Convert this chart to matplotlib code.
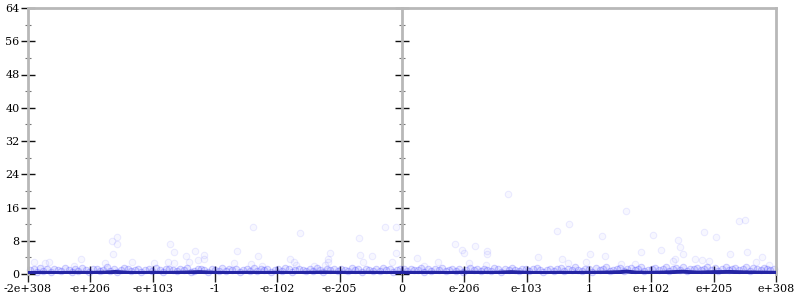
import matplotlib
matplotlib.use("Agg")
import matplotlib.pyplot as plt
from matplotlib.ticker import MultipleLocator

# ---- data (x in display-scale units: -6 .. 6 correspond to the tick labels) ----
tick_pos = [-6, -5, -4, -3, -2, -1, 0, 1, 2, 3, 4, 5, 6]
tick_labels = ["-2e+308", "-e+206", "-e+103", "-1", "-e-102", "-e-205", "0",
               "e-206", "e-103", "1", "e+102", "e+205", "e+308"]

band_left_t = [-5.97,-5.91,-5.86,-5.80,-5.76,-5.69,-5.63,-5.58,-5.52,-5.47,-5.41,-5.35,-5.30,-5.24,-5.19,-5.13,
               -5.07,-5.02,-4.96,-4.90,-4.85,-4.79,-4.74,-4.68,-4.62,-4.57,-4.51,-4.46,-4.40,-4.34,-4.29,-4.23,
               -4.18,-4.12,-4.06,-4.01,-3.95,-3.89,-3.84,-3.78,-3.73,-3.67,-3.61,-3.56,-3.50,-3.45,-3.39,-3.33,
               -3.28,-3.22,-3.17,-3.11,-3.05,-3.00,-2.94,-2.88,-2.83,-2.77,-2.72,-2.66,-2.60,-2.55,-2.49,-2.44,
               -2.38,-2.32,-2.27,-2.21,-2.16,-2.10,-2.04,-1.99,-1.93,-1.87,-1.82,-1.76,-1.71,-1.65,-1.59,-1.54,
               -1.48,-1.43,-1.37,-1.31,-1.26,-1.20,-1.15,-1.09,-1.03,-0.98,-0.92,-0.86,-0.81,-0.75,-0.70,-0.64,
               -0.58,-0.53,-0.47,-0.42,-0.36,-0.30,-0.25,-0.19,-0.14,-0.08,-0.03]
band_left_y = [0.9,1.2,0.6,1.4,0.8,1.1,0.5,1.3,0.9,0.7,1.5,1.0,0.6,1.2,0.8,1.4,
               0.9,0.5,1.1,1.3,0.7,1.0,1.6,0.8,1.2,0.6,0.9,1.4,1.1,0.7,1.0,1.3,
               0.5,0.9,1.2,0.8,1.5,1.0,0.6,1.1,1.3,0.9,0.7,1.2,1.0,1.4,0.6,0.8,
               1.1,1.3,0.9,0.5,1.2,1.0,0.7,1.5,0.8,1.1,0.9,1.3,0.6,1.0,1.2,0.8,
               1.4,0.7,1.1,0.9,1.3,0.5,1.0,1.2,0.8,1.5,1.1,0.6,0.9,1.3,1.0,0.7,
               1.2,0.8,1.4,1.0,0.6,1.1,0.9,1.3,0.7,1.2,1.0,0.8,1.5,0.9,1.1,0.6,
               1.3,1.0,0.8,1.2,0.7,1.4,0.9,1.1,0.6,1.0,1.3]

band_right_t = [0.03,0.08,0.14,0.19,0.25,0.31,0.36,0.42,0.47,0.53,0.59,0.64,0.70,0.75,0.81,0.87,
                0.92,0.98,1.03,1.09,1.15,1.20,1.26,1.31,1.37,1.43,1.48,1.54,1.59,1.65,1.71,1.76,
                1.82,1.87,1.93,1.99,2.04,2.10,2.16,2.21,2.27,2.32,2.38,2.44,2.49,2.55,2.60,2.66,
                2.72,2.77,2.83,2.88,2.94,3.00,3.05,3.11,3.17,3.22,3.28,3.33,3.39,3.45,3.50,3.56,
                3.61,3.67,3.73,3.78,3.84,3.89,3.95,4.01,4.06,4.12,4.18,4.23,4.29,4.34,4.40,4.46,
                4.51,4.57,4.62,4.68,4.74,4.79,4.85,4.90,4.96,5.02,5.07,5.13,5.19,5.24,5.30,5.35,
                5.41,5.47,5.52,5.58,5.63,5.69,5.76,5.80,5.86,5.91,5.97]
band_right_y = [1.1,0.7,1.3,0.9,1.0,1.4,0.6,1.2,0.8,1.1,0.9,1.5,0.7,1.0,1.3,0.8,
                1.2,0.6,1.0,1.4,0.9,1.1,0.7,1.3,1.0,0.8,1.5,1.2,0.6,1.1,0.9,1.4,
                1.0,0.7,1.3,1.1,0.8,1.2,1.5,0.9,0.6,1.0,1.3,0.8,1.1,1.4,0.7,1.2,
                0.9,1.6,1.0,0.8,1.3,1.1,0.6,1.4,0.9,1.2,1.7,0.8,1.0,1.3,1.5,0.7,
                1.1,1.4,0.9,1.2,1.6,0.8,1.0,1.3,1.5,0.9,1.2,1.7,0.7,1.1,1.4,1.0,
                1.6,0.8,1.3,1.1,1.5,0.9,1.2,1.8,1.0,1.4,0.7,1.1,1.6,0.9,1.3,1.5,
                1.0,1.2,1.7,0.8,1.4,1.1,0.9,1.5,1.2,1.0,1.3]

outlier_t = [-4.65,-4.58,-4.57,-4.64,-5.15,-4.33,-4.77,-3.72,-3.66,-3.32,-3.17,-3.17,-3.46,-3.98,
             -3.75,-3.65,-3.42,-3.28,-5.91,-5.67,-5.73,-5.27,
             -2.39,-1.63,-2.65,-2.31,-2.69,-2.42,-1.79,-1.74,-1.70,-1.15,-1.18,-1.18,-0.69,-0.67,
             -0.62,-0.48,-0.27,-0.10,-0.10,-0.16,-1.24,-2.25,-1.41,
             1.70,2.68,2.49,0.85,1.17,0.96,1.00,1.37,1.37,0.24,2.18,2.57,2.67,0.57,0.35,1.07,1.34,
             3.60,5.41,5.50,3.21,4.03,4.84,5.03,4.42,4.46,4.50,4.15,3.83,3.02,3.25,5.53,5.27,5.77,
             2.95,4.70,4.82,4.92,4.34,4.38,3.52,3.74,5.68,5.88]
outlier_y = [8.0,8.8,7.1,4.7,3.7,3.0,2.6,7.2,5.3,5.5,4.6,3.6,4.3,2.7,
             2.8,2.6,2.9,3.4,3.0,3.0,2.6,1.9,
             11.4,9.9,5.5,4.4,2.6,2.5,3.7,3.0,2.2,5.0,3.7,3.0,8.7,4.5,
             2.9,4.3,11.3,11.3,5.0,3.0,2.1,1.9,1.9,
             19.2,12.1,10.4,7.2,6.7,5.8,5.0,5.6,4.8,3.9,4.0,3.7,2.6,2.9,2.0,2.6,2.1,
             15.2,12.8,13.1,9.1,9.5,10.2,8.8,8.3,6.5,4.7,5.7,5.3,4.8,4.3,5.4,4.7,4.0,
             3.0,3.7,3.4,3.1,3.1,3.5,2.4,2.4,2.9,2.1]

line_t = [-6.0,-5.75,-5.5,-5.25,-5.0,-4.75,-4.6,-4.4,-4.25,-4.0,-3.75,-3.5,-3.25,-3.0,-2.75,-2.5,
          -2.25,-2.0,-1.75,-1.5,-1.25,-1.0,-0.75,-0.5,-0.25,0.0,0.25,0.5,0.75,1.0,1.25,1.5,1.75,
          2.0,2.25,2.5,2.75,3.0,3.25,3.5,3.6,3.75,4.0,4.25,4.5,4.75,5.0,5.25,5.5,5.75,6.0]
line_y = [0.25,0.3,0.25,0.3,0.28,0.35,0.5,0.3,0.25,0.3,0.28,0.35,0.45,0.3,0.25,0.3,
          0.28,0.3,0.25,0.3,0.35,0.3,0.28,0.3,0.25,0.3,0.28,0.3,0.25,0.35,0.3,0.3,0.45,
          0.3,0.25,0.3,0.28,0.3,0.35,0.45,0.6,0.35,0.3,0.4,0.55,0.35,0.45,0.5,0.4,0.35,0.3]

# ---- figure ----
plt.rcParams["font.family"] = ["DejaVu Serif"]
fig = plt.figure(figsize=(8, 3), dpi=100)
ax = fig.add_axes([28/800, 1-274/300, 748/800, 266/300])

band_face = (0.0, 0.0, 1.0, 0.10)
band_edge = (0.0, 0.0, 1.0, 0.16)
out_face = (0.0, 0.0, 1.0, 0.03)
out_edge = (0.0, 0.0, 1.0, 0.07)
for xs, ys in ((band_left_t, band_left_y), (band_right_t, band_right_y)):
    n = min(len(xs), len(ys))
    ax.scatter(xs[:n], ys[:n], s=22, facecolor=band_face, edgecolor=band_edge,
               linewidths=0.8, zorder=2, clip_on=False)
n = min(len(outlier_t), len(outlier_y))
ax.scatter(outlier_t[:n], outlier_y[:n], s=22, facecolor=out_face, edgecolor=out_edge,
           linewidths=0.8, zorder=2, clip_on=False)
ax.plot(line_t, line_y, color="#2424a4", lw=2.8, zorder=3, solid_capstyle="butt")

ax.set_xlim(-6, 6)
ax.set_ylim(0, 64)
ax.set_xticks(tick_pos)
ax.set_xticklabels(tick_labels)
ax.yaxis.set_major_locator(MultipleLocator(8))
ax.yaxis.set_minor_locator(MultipleLocator(4))

grey = "#b8b8b8"
for side in ("left", "right", "top"):
    ax.spines[side].set_color(grey)
    ax.spines[side].set_linewidth(2)
ax.spines["bottom"].set_visible(False)

ax.tick_params(axis="x", which="major", direction="inout", length=11, width=1,
               color="#222222", labelsize=8, pad=2)
ax.tick_params(axis="y", which="major", direction="inout", length=10, width=1,
               color="#111111", labelsize=8, left=True, right=True, pad=1)
ax.tick_params(axis="y", which="minor", direction="inout", length=5, width=0.8,
               color="#777777", left=True, right=True)

# middle axis at 0
ax2 = ax.twinx()
ax2.set_ylim(0, 64)
ax2.yaxis.set_major_locator(MultipleLocator(8))
ax2.yaxis.set_minor_locator(MultipleLocator(4))
for side in ("left", "top", "bottom"):
    ax2.spines[side].set_visible(False)
ax2.spines["right"].set_position(("data", 0))
ax2.spines["right"].set_color(grey)
ax2.spines["right"].set_linewidth(2)
ax2.tick_params(axis="y", which="major", direction="inout", length=10, width=1,
                color="#111111", labelright=False)
ax2.tick_params(axis="y", which="minor", direction="inout", length=5, width=0.8,
                color="#777777")
ax2.patch.set_visible(False)
ax.set_zorder(ax2.get_zorder() + 1)
ax.patch.set_visible(False)

fig.savefig("out.png", dpi=100)
